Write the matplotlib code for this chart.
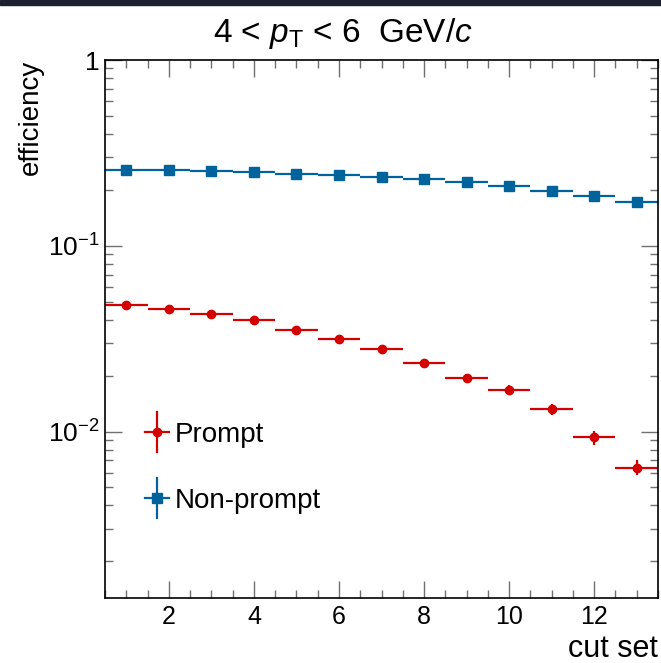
import numpy as np
import matplotlib
matplotlib.use("Agg")
import matplotlib.pyplot as plt
from matplotlib.ticker import FixedLocator, FixedFormatter, MultipleLocator
from matplotlib.patches import Rectangle

plt.rcParams['font.family'] = ['Liberation Sans', 'DejaVu Sans']
plt.rcParams['mathtext.fontset'] = 'custom'
plt.rcParams['mathtext.rm'] = 'Liberation Sans'
plt.rcParams['mathtext.it'] = 'Liberation Sans:italic'
plt.rcParams['mathtext.default'] = 'regular'

# efficiencies per cut set
cut_sets = np.arange(1, 14)
eff_prompt = [0.0478, 0.0459, 0.0431, 0.0396, 0.0350, 0.0313, 0.0277,
              0.0235, 0.0195, 0.0168, 0.0132, 0.0093, 0.0064]
err_prompt = [0.0009, 0.0009, 0.0010, 0.0010, 0.0010, 0.0009, 0.0009,
              0.0008, 0.0008, 0.0009, 0.0009, 0.0008, 0.0006]
eff_nonprompt = [0.2566, 0.2566, 0.2535, 0.2505, 0.2443, 0.2413, 0.2354,
                 0.2298, 0.2214, 0.2108, 0.1980, 0.1863, 0.1723]
err_nonprompt = [0.002, 0.002, 0.002, 0.002, 0.002, 0.002, 0.002,
                 0.002, 0.002, 0.002, 0.002, 0.002, 0.002]
bin_half_width = 0.5

red = '#d40000'
blue = '#00639c'

fig = plt.figure(figsize=(6.61, 6.63), dpi=100)
fig.patches.append(Rectangle((0, 1 - 5 / 663), 1, 5 / 663, transform=fig.transFigure,
                             color='#1d2030', zorder=10))
ax = fig.add_axes([105 / 661, 65 / 663, 553 / 661, 538 / 663])

ax.errorbar(cut_sets, eff_nonprompt, yerr=err_nonprompt, xerr=bin_half_width,
            fmt='s', color=blue, ms=6.5, elinewidth=1.6, capsize=0)
ax.errorbar(cut_sets, eff_prompt, yerr=err_prompt, xerr=bin_half_width,
            fmt='o', color=red, ms=6, elinewidth=1.6, capsize=0)

ax.set_yscale('log')
ax.set_xlim(0.5, 13.5)
ax.set_ylim(1.27e-3, 1.0)

ax.xaxis.set_major_locator(MultipleLocator(2))
ax.xaxis.set_minor_locator(MultipleLocator(0.5))
ax.yaxis.set_major_locator(FixedLocator([1e-2, 1e-1, 1]))
ax.yaxis.set_major_formatter(FixedFormatter([r'$10^{-2}$', r'$10^{-1}$', '1']))
minors = [m * 10.0 ** e for e in (-3, -2, -1) for m in range(2, 10)]
ax.yaxis.set_minor_locator(FixedLocator(minors))

ax.tick_params(which='both', direction='in', top=True, right=True,
               color='#707070', width=1.0)
ax.tick_params(which='major', length=12)
ax.tick_params(which='minor', length=6)
ax.tick_params(axis='x', pad=5, labelsize=18)
ax.tick_params(axis='y', pad=4, labelsize=19)
for sp in ax.spines.values():
    sp.set_linewidth(1.2)

ax.set_xlabel('cut set', fontsize=22, loc='right')
ax.set_ylabel('efficiency', fontsize=20, loc='top')
ax.xaxis.set_label_coords(1.0, -0.067)
ax.yaxis.set_label_coords(-0.111, 1.0)
fig.text(342.5 / 661, 1 - 42 / 663, r'4 < $\mathit{p}_{\mathrm{T}}$ < 6  GeV/$\mathit{c}$',
         fontsize=24, ha='center', va='baseline')

# legend
entries = [('Prompt', 'o', red, 6, 0.309), ('Non-prompt', 's', blue, 6.5, 0.186)]
for text, mk, col, ms, yl in entries:
    xl = 0.094
    ax.plot([xl - 0.0217, xl + 0.0217], [yl, yl], color=col, lw=1.6, transform=ax.transAxes)
    ax.plot([xl, xl], [yl - 0.037, yl + 0.037], color=col, lw=1.6, transform=ax.transAxes)
    ax.plot([xl], [yl], marker=mk, color=col, ms=ms, transform=ax.transAxes)
    ax.text(0.126, yl, text, fontsize=20, va='center_baseline', ha='left',
            transform=ax.transAxes)

fig.savefig('out.png', dpi=100)
